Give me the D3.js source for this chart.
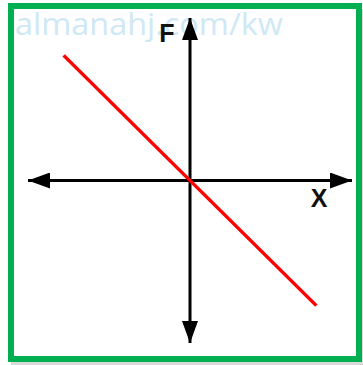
<!DOCTYPE html>
<html>
<head>
<meta charset="utf-8">
<script src="https://cdn.jsdelivr.net/npm/d3@7"></script>
<style>
  body { margin: 0; background: #fff; }
  svg { display: block; }
</style>
</head>
<body>
<div id="chart"></div>
<script>
// axis extents (data units) and the straight line F = -X
var axisX = [-1, 1];
var axisF = [-1, 1];
var lineX = [-0.78, 0.78];
var lineF = [0.77, -0.77];
var axisLabels = ["X", "F"];
var watermark = "almanahj.com/kw";

var W = 363, H = 365;
var svg = d3.select("#chart").append("svg")
    .attr("width", W)
    .attr("height", H);

var x = d3.scaleLinear().domain([-1, 1]).range([28, 352]);
var y = d3.scaleLinear().domain([-1, 1]).range([343, 18]);

// shadow + green frame
svg.append("rect")
    .attr("x", 11).attr("y", 9).attr("width", 352).attr("height", 356)
    .attr("fill", "#d9d9d9");
svg.append("rect")
    .attr("x", 11).attr("y", 6).attr("width", 348).attr("height", 353)
    .attr("fill", "#fff")
    .attr("stroke", "#00b050")
    .attr("stroke-width", 6);

// watermark
svg.append("text")
    .attr("x", 15).attr("y", 35)
    .attr("textLength", 268)
    .attr("lengthAdjust", "spacingAndGlyphs")
    .style("font-family", "'Open Sans', sans-serif")
    .style("font-size", "31px")
    .attr("fill", "#cfe8f5")
    .text(watermark);

// arrow head marker
svg.append("defs").append("marker")
    .attr("id", "arr")
    .attr("viewBox", "0 0 22 16")
    .attr("refX", 22).attr("refY", 8)
    .attr("markerUnits", "userSpaceOnUse")
    .attr("markerWidth", 22).attr("markerHeight", 16)
    .attr("orient", "auto-start-reverse")
  .append("path")
    .attr("d", "M0,0L22,8L0,16Z")
    .attr("fill", "#000");

// axes
svg.append("line")
    .attr("x1", x(axisX[0])).attr("x2", x(axisX[1]))
    .attr("y1", y(0)).attr("y2", y(0))
    .attr("stroke", "#000").attr("stroke-width", 3)
    .attr("marker-start", "url(#arr)")
    .attr("marker-end", "url(#arr)");
svg.append("line")
    .attr("x1", x(0)).attr("x2", x(0))
    .attr("y1", y(axisF[0])).attr("y2", y(axisF[1]))
    .attr("stroke", "#000").attr("stroke-width", 3)
    .attr("marker-start", "url(#arr)")
    .attr("marker-end", "url(#arr)");

// the red line
svg.append("path")
    .datum(d3.zip(lineX, lineF))
    .attr("d", d3.line().x(function(d) { return x(d[0]); }).y(function(d) { return y(d[1]); }))
    .attr("stroke", "#ff0000")
    .attr("stroke-width", 3.5)
    .attr("fill", "none");

// labels
svg.append("text")
    .attr("x", 319).attr("y", 207)
    .attr("text-anchor", "middle")
    .style("font-family", "'Liberation Sans', Arial, sans-serif")
    .style("font-weight", "bold")
    .style("font-size", "25px")
    .attr("fill", "#111")
    .text(axisLabels[0]);
svg.append("text")
    .attr("x", 167).attr("y", 42)
    .attr("text-anchor", "middle")
    .style("font-family", "'Liberation Sans', Arial, sans-serif")
    .style("font-weight", "bold")
    .style("font-size", "25px")
    .attr("fill", "#111")
    .text(axisLabels[1]);
</script>
</body>
</html>
